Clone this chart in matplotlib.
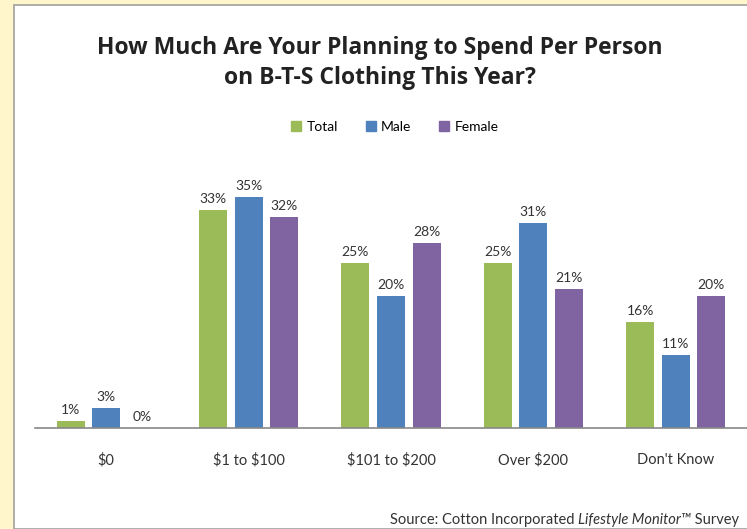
import matplotlib.pyplot as plt
import matplotlib.patches as mpatches
import numpy as np

plt.rcParams['font.family'] = ['Lato', 'DejaVu Sans']
plt.rcParams['text.parse_math'] = False

categories = ['$0', '$1 to $100', '$101 to $200', 'Over $200', "Don't Know"]
series = ['Total', 'Male', 'Female']
total = [1, 33, 25, 25, 16]
male = [3, 35, 20, 31, 11]
female = [0, 32, 28, 21, 20]
colors = ['#9BBB59', '#4F81BD', '#8064A2']

fig = plt.figure(figsize=(7.47, 5.29), dpi=100)
fig.patch.set_facecolor('#FFF6CC')

# white panel with grey edge
panel = mpatches.Rectangle((14 / 747, 0), 1, 1 - 5 / 529, transform=fig.transFigure,
                           facecolor='white', edgecolor='#A0A0A0', linewidth=1.2, zorder=-1)
fig.patches.append(panel)

ax = fig.add_axes([35 / 747, 101 / 529, 712 / 747, 264 / 529])
ax.set_facecolor('none')

x = np.arange(len(categories))
step = 0.25
width = 0.197
for i, (name, vals) in enumerate(zip(series, [total, male, female])):
    pos = x + (i - 1) * step
    ax.bar(pos, vals, width, color=colors[i], label=name)
    for p, v in zip(pos, vals):
        ax.text(p, v + 0.8, f'{v}%', ha='center', va='bottom', fontsize=10, color='#333333')

ax.set_xlim(-0.5, 4.5)
ax.set_ylim(0, 40)
ax.set_yticks([])
for s in ['top', 'right', 'left']:
    ax.spines[s].set_visible(False)
ax.spines['bottom'].set_color('#888888')
ax.spines['bottom'].set_linewidth(1.2)
ax.set_xticks(x)
ax.set_xticklabels(categories, fontsize=10.5, color='#333333')
ax.tick_params(axis='x', length=0, pad=18)

fig.text(380 / 747, 1 - 48 / 529, 'How Much Are Your Planning to Spend Per Person',
         ha='center', va='center', fontsize=16.5, fontweight='bold', color='#222222',
         family='Open Sans')
fig.text(380 / 747, 1 - 78 / 529, 'on B-T-S Clothing This Year?',
         ha='center', va='center', fontsize=16.5, fontweight='bold', color='#222222',
         family='Open Sans')

handles = [mpatches.Patch(color=c) for c in colors]
fig.legend(handles, series, loc='center', bbox_to_anchor=(395 / 747, 1 - 127 / 529),
           ncol=3, frameon=False, fontsize=10, handlelength=0.7, handleheight=0.7,
           handletextpad=0.4, columnspacing=2.0)

# source line, pieces placed one after another
renderer = fig.canvas.get_renderer()
xpos = 390
pieces = [('Source: Cotton Incorporated ', 'normal'), ('Lifestyle Monitor\u2122', 'italic'),
          (' Survey', 'normal')]
for txt, st in pieces:
    t = fig.text(xpos / 747, 1 - 520 / 529, txt, ha='left', va='center',
                 fontsize=10.5, style=st, color='#333333')
    xpos += t.get_window_extent(renderer).width

fig.savefig('out.png', dpi=100, facecolor=fig.get_facecolor())
